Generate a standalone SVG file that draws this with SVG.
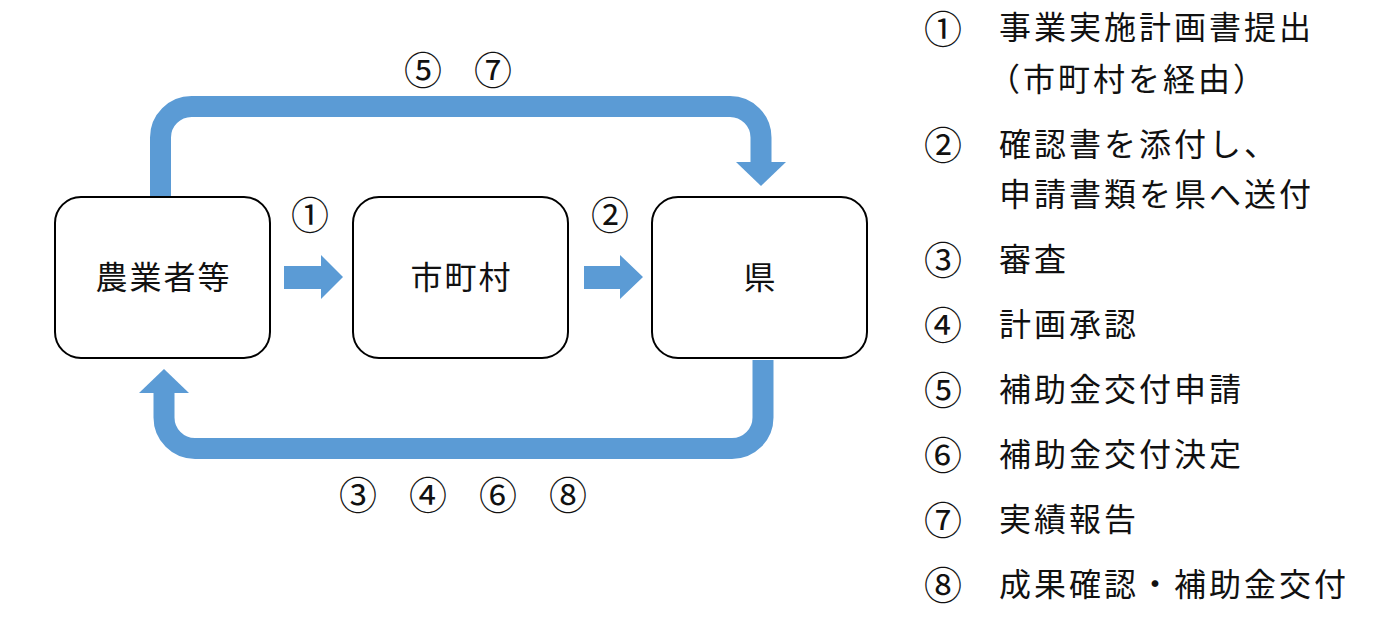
<svg xmlns="http://www.w3.org/2000/svg" width="1381" height="620" viewBox="0 0 1381 620">
<style>
text{font-family:"Noto Sans CJK JP","Noto Sans",sans-serif;fill:#111;}
.box{fill:#fff;stroke:#000;stroke-width:2;}
.bt{font-size:32px;letter-spacing:2px;text-anchor:middle;}
.num{font-size:38px;text-anchor:middle;}
.lg{font-size:32px;letter-spacing:3px;}
.conn{fill:none;stroke:#5B9BD5;stroke-width:21;}
.head{fill:#5B9BD5;}
</style>
<rect width="1381" height="620" fill="#fff"/>
<g id="connectors">
<path class="conn" d="M160.5,196 V137.5 A31,31 0 0 1 191.5,106.5 H730 A31,31 0 0 1 761,137.5 V163"/>
<polygon class="head" points="736,162 786,162 761,186"/>
<path class="conn" d="M763,360 V417.5 A31,31 0 0 1 732,448.5 H195 A31,31 0 0 1 164,417.5 V392"/>
<polygon class="head" points="139,393 189,393 164,369"/>
<polygon class="head" points="284,266 321,266 321,255 343,277 321,299 321,289 284,289"/>
<polygon class="head" points="584,266 620,266 620,255 643,277 620,299 620,289 584,289"/>
</g>
<g id="node-farmers">
<rect class="box" x="55" y="197" width="215" height="161" rx="26"/>
<text class="bt" x="163.5" y="289">農業者等</text>
</g>
<g id="node-municipality">
<rect class="box" x="353" y="197" width="215" height="161" rx="26"/>
<text class="bt" x="461.5" y="289">市町村</text>
</g>
<g id="node-prefecture">
<rect class="box" x="652" y="197" width="215" height="161" rx="26"/>
<text class="bt" x="760.5" y="289">県</text>
</g>
<g id="step-labels">
<text class="num" x="423" y="84">⑤</text>
<text class="num" x="493" y="84">⑦</text>
<text class="num" x="310" y="229">①</text>
<text class="num" x="610" y="229">②</text>
<text class="num" x="358" y="509">③</text>
<text class="num" x="428" y="509">④</text>
<text class="num" x="498" y="509">⑥</text>
<text class="num" x="568" y="509">⑧</text>
</g>
<g id="legend">
<text class="num" x="943" y="43">①</text>
<text class="lg" x="999" y="39">事業実施計画書提出</text>
<text class="lg" x="988" y="91">（市町村を経由）</text>
<text class="num" x="943" y="159">②</text>
<text class="lg" x="999" y="156">確認書を添付し、</text>
<text class="lg" x="999" y="206">申請書類を県へ送付</text>
<text class="num" x="943" y="274">③</text>
<text class="lg" x="999" y="271">審査</text>
<text class="num" x="943" y="339">④</text>
<text class="lg" x="999" y="336">計画承認</text>
<text class="num" x="943" y="404">⑤</text>
<text class="lg" x="999" y="401">補助金交付申請</text>
<text class="num" x="943" y="469">⑥</text>
<text class="lg" x="999" y="466">補助金交付決定</text>
<text class="num" x="943" y="534">⑦</text>
<text class="lg" x="999" y="531">実績報告</text>
<text class="num" x="943" y="599">⑧</text>
<text class="lg" x="999" y="596">成果確認・補助金交付</text>
</g>
</svg>
